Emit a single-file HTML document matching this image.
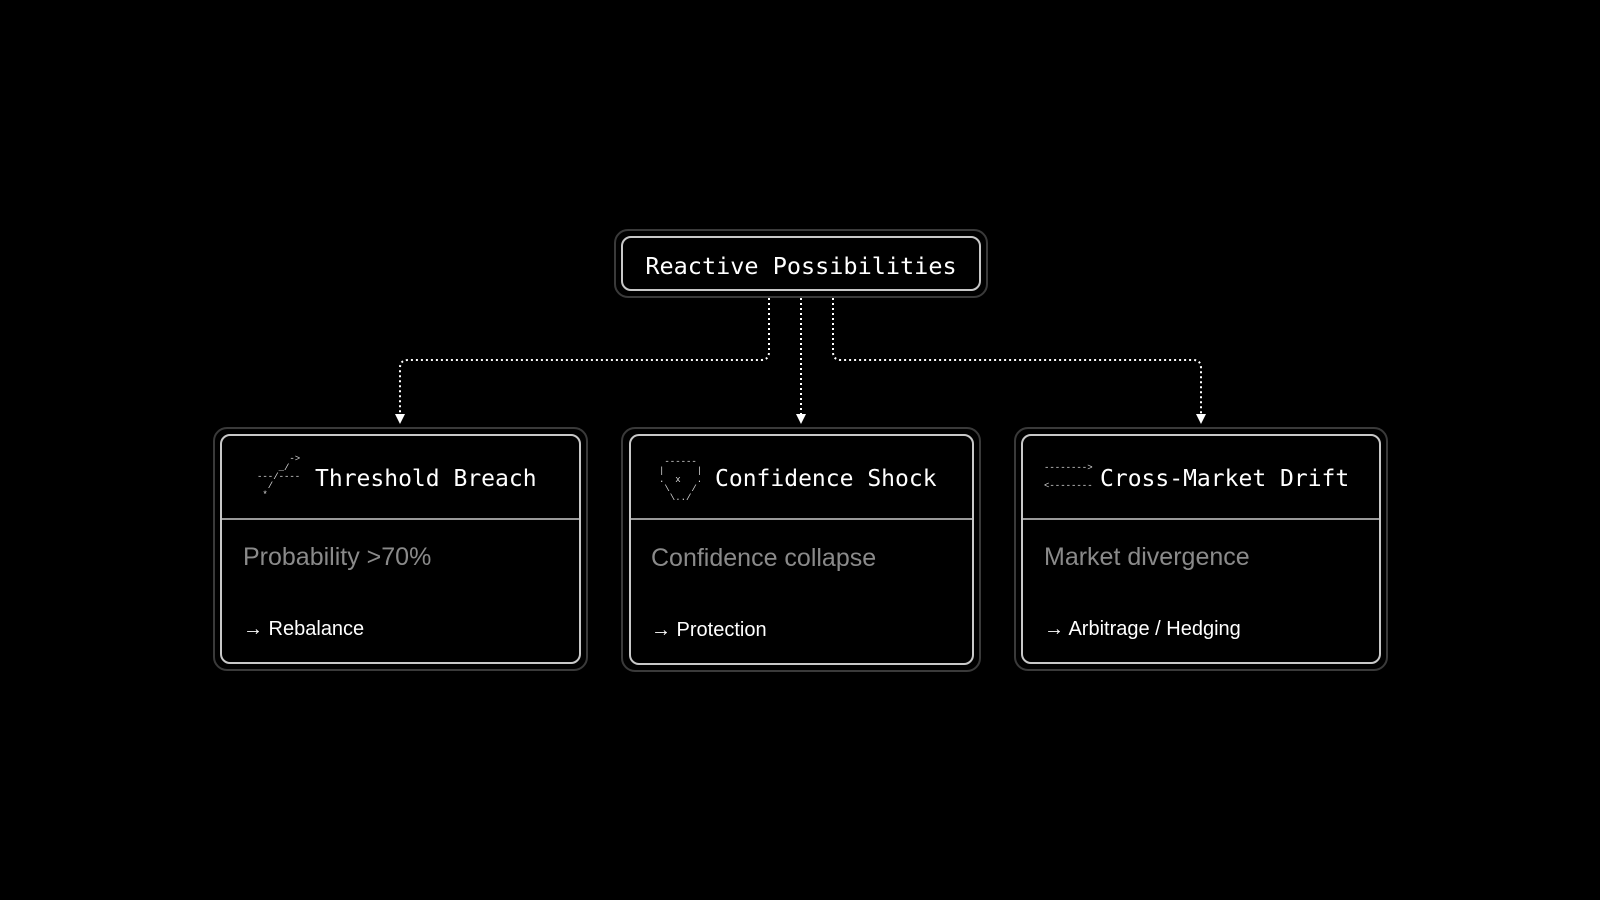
<!DOCTYPE html>
<html><head><style>
body{margin:0;width:1600px;height:900px;background:#000;position:relative;overflow:hidden;font-family:"Liberation Sans",sans-serif}
.o{position:absolute;border:2px solid #3a3a3a;border-radius:14px;box-sizing:border-box}
.i{position:absolute;border:2px solid #c8c8c8;border-radius:10px;box-sizing:border-box}
.mono{font-family:"DejaVu Sans Mono","Liberation Mono",monospace;color:#fff;position:absolute;white-space:nowrap}
.t{font-size:23px}
.sub{position:absolute;color:#8a8a8a;font-size:25px;white-space:nowrap}
.act{position:absolute;color:#fff;font-size:20px;white-space:nowrap}
.div{position:absolute;height:2px;background:#9a9a9a}
.ic{position:absolute;font-family:"Liberation Mono",monospace;color:#ddd;font-size:9px;line-height:9px;white-space:pre}
</style></head><body>
<svg width="1600" height="900" style="position:absolute;left:0;top:0">
<g fill="none" stroke="#fff" stroke-width="2" stroke-dasharray="2 3">
<path d="M769 298 V352 Q769 360 761 360 H408 Q400 360 400 368 V414"/>
<path d="M801 298 V414"/>
<path d="M833 298 V352 Q833 360 841 360 H1193 Q1201 360 1201 368 V414"/>
</g>
<g fill="#fff"><path d="M395 414 L405 414 L400 424Z"/><path d="M796 414 L806 414 L801 424Z"/><path d="M1196 414 L1206 414 L1201 424Z"/></g>
</svg>
<div class="o" style="left:614px;top:229px;width:374px;height:69px"></div>
<div class="i" style="left:621px;top:236px;width:360px;height:55px"></div>
<div class="mono t" style="left:621px;width:360px;text-align:center;top:252px;font-size:23.5px">Reactive Possibilities</div>

<div class="o" style="left:213px;top:427px;width:375px;height:244px"></div>
<div class="i" style="left:220px;top:434px;width:361px;height:230px"></div>
<div class="div" style="left:222px;top:518px;width:357px"></div>
<div class="ic" style="left:257px;top:455px">      -&gt;
    _/
---/----
  /
 *</div>
<div class="mono t" style="left:315px;top:466px">Threshold Breach</div>
<div class="sub" style="left:243px;top:543px">Probability &gt;70%</div>
<div class="act" style="left:243px;top:618px">→ Rebalance</div>

<div class="o" style="left:621px;top:427px;width:360px;height:245px"></div>
<div class="i" style="left:629px;top:434px;width:345px;height:231px"></div>
<div class="div" style="left:631px;top:518px;width:341px"></div>
<div class="ic" style="left:659px;top:458px"> ------
|      |
.  x   .
 \    /
  \../</div>
<div class="mono t" style="left:715px;top:466px">Confidence Shock</div>
<div class="sub" style="left:651px;top:544px">Confidence collapse</div>
<div class="act" style="left:651px;top:619px">→ Protection</div>

<div class="o" style="left:1014px;top:427px;width:374px;height:244px"></div>
<div class="i" style="left:1021px;top:434px;width:360px;height:230px"></div>
<div class="div" style="left:1023px;top:518px;width:356px"></div>
<div class="ic" style="left:1044px;top:464px">--------&gt;

&lt;--------</div>
<div class="mono t" style="left:1100px;top:466px">Cross-Market Drift</div>
<div class="sub" style="left:1044px;top:543px">Market divergence</div>
<div class="act" style="left:1044px;top:618px">→ Arbitrage / Hedging</div>
</body></html>
